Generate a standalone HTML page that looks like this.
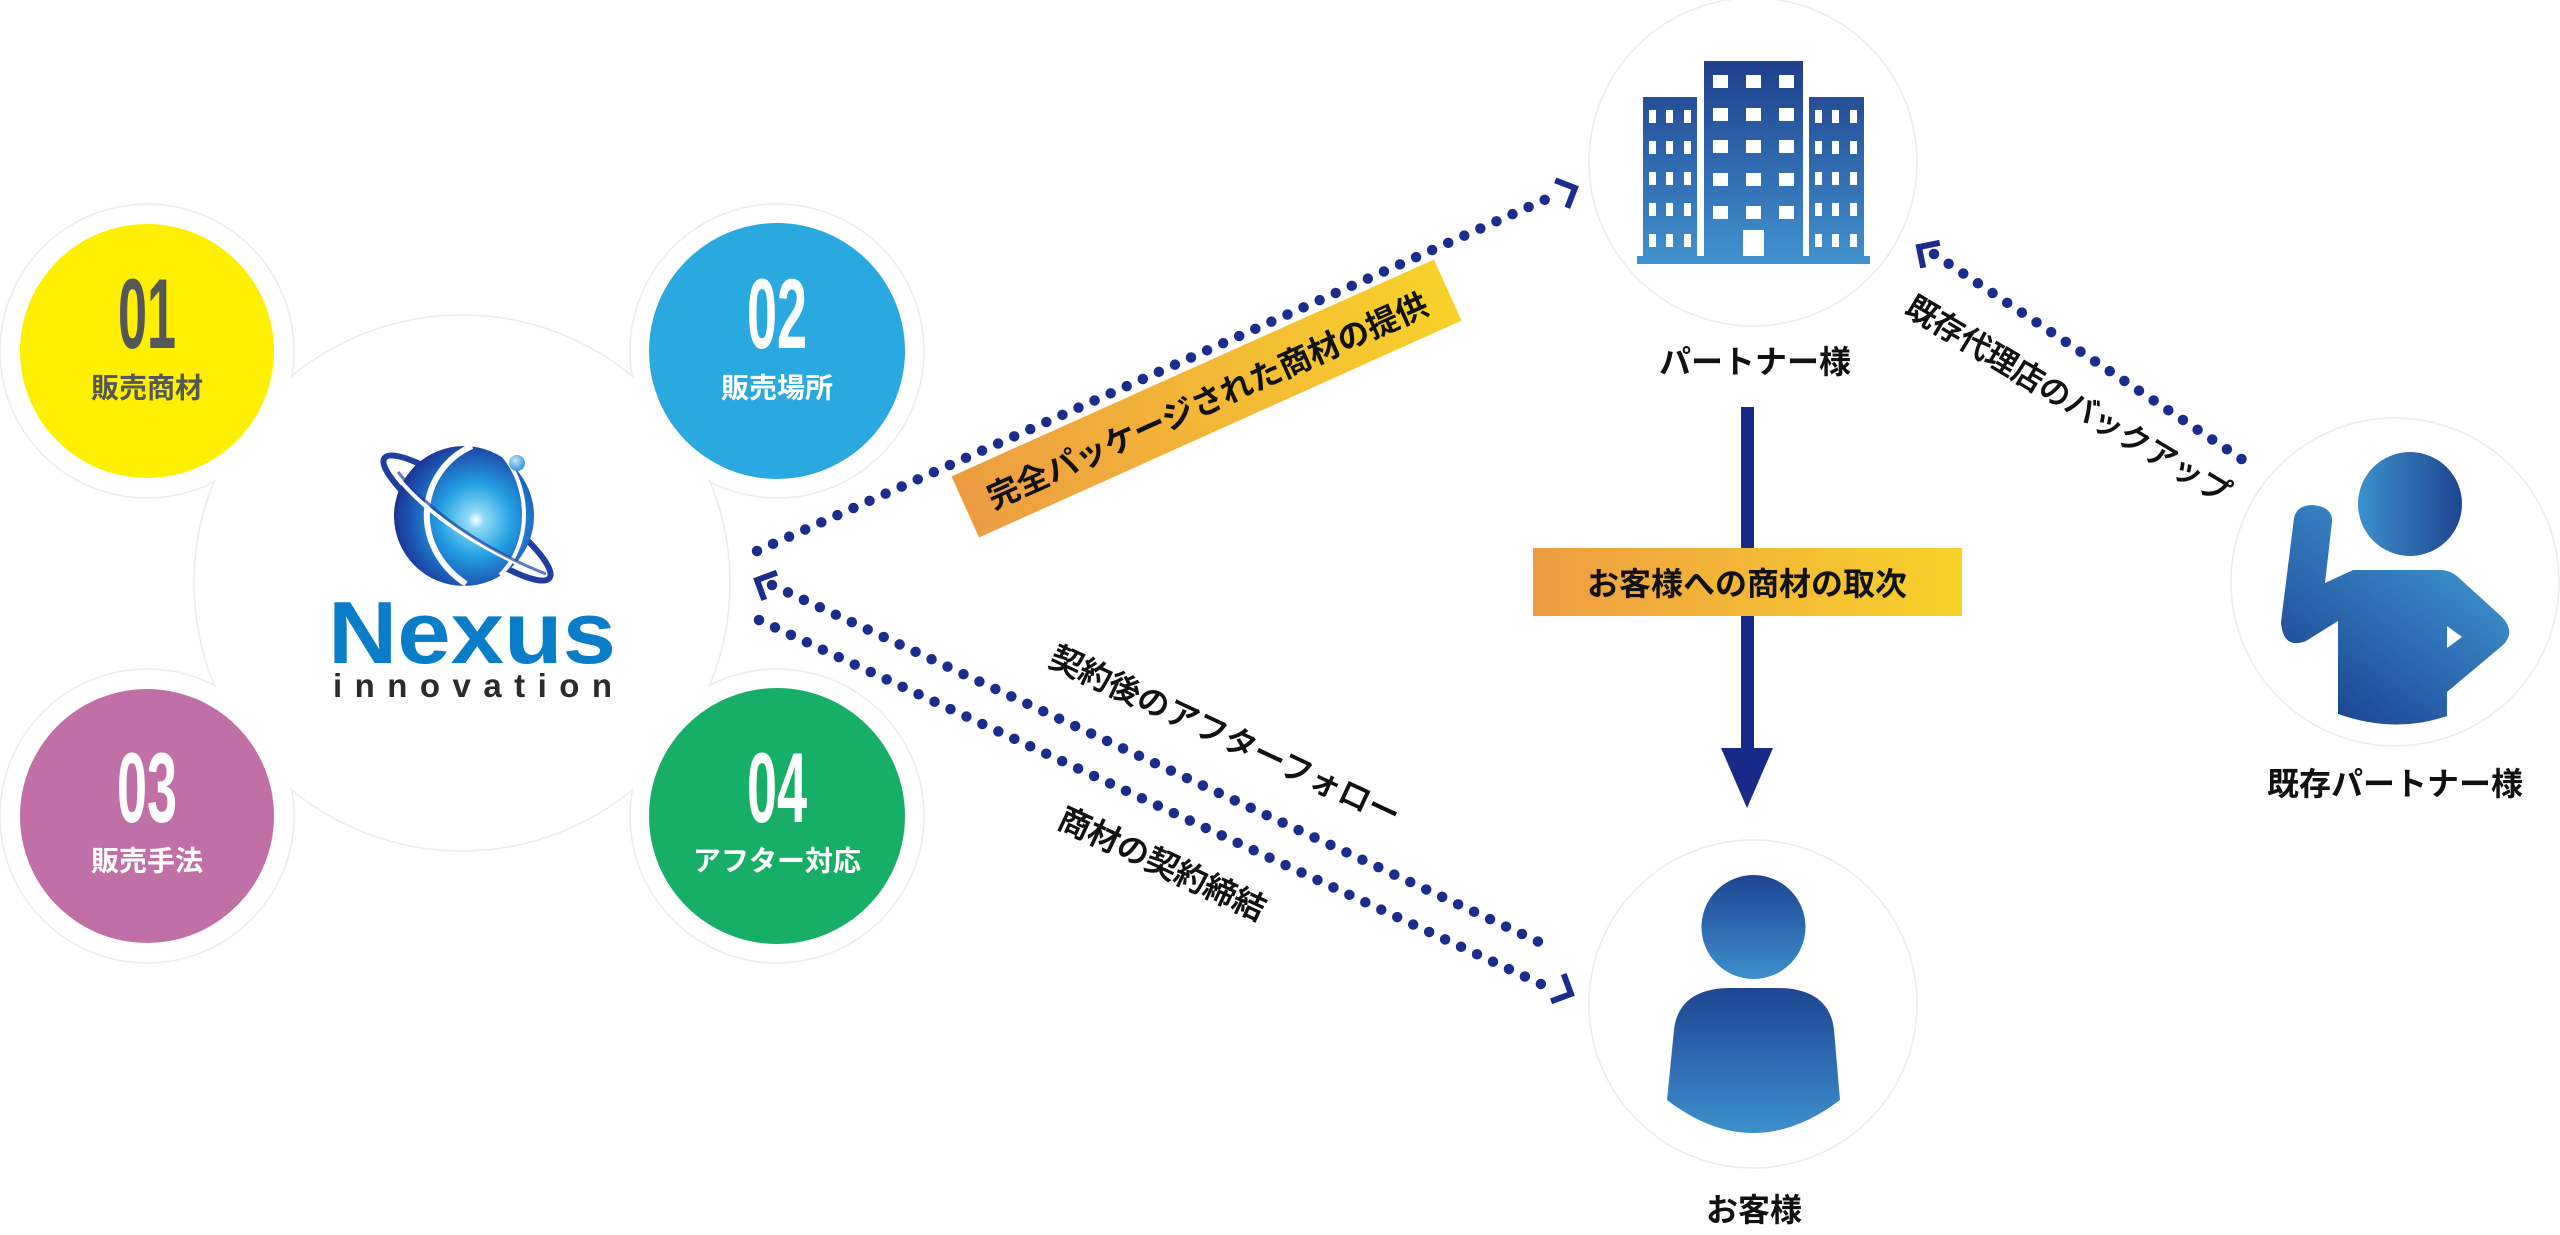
<!DOCTYPE html>
<html><head><meta charset="utf-8"><style>
html,body{margin:0;padding:0;background:#fff;}
svg{display:block;}
text{font-family:"Liberation Sans","Noto Sans CJK JP",sans-serif;}
.num{font-family:"Liberation Sans Narrow","Liberation Sans",sans-serif;font-weight:bold;}
</style></head><body>
<svg width="2560" height="1235" viewBox="0 0 2560 1235" xmlns="http://www.w3.org/2000/svg">
<defs>
  <linearGradient id="og" x1="0" y1="0" x2="1" y2="0">
    <stop offset="0" stop-color="#ee9c42"/><stop offset="1" stop-color="#f8d22a"/>
  </linearGradient>
  <radialGradient id="gl" gradientUnits="userSpaceOnUse" cx="476" cy="520" r="86">
    <stop offset="0" stop-color="#ffffff"/>
    <stop offset="0.1" stop-color="#8edaf6"/>
    <stop offset="0.42" stop-color="#23a0e2"/>
    <stop offset="0.75" stop-color="#1d5ab6"/>
    <stop offset="1" stop-color="#1b2b8c"/>
  </radialGradient>
  <radialGradient id="gd" cx="0.4" cy="0.35" r="0.7">
    <stop offset="0" stop-color="#bfe9fb"/><stop offset="1" stop-color="#2a8fd6"/>
  </radialGradient>
  <linearGradient id="bgd" x1="0" y1="61" x2="0" y2="263" gradientUnits="userSpaceOnUse">
    <stop offset="0" stop-color="#1f3f8c"/><stop offset="1" stop-color="#4193cf"/>
  </linearGradient>
  <linearGradient id="ch" x1="0" y1="876" x2="0" y2="979" gradientUnits="userSpaceOnUse">
    <stop offset="0" stop-color="#1f4592"/><stop offset="1" stop-color="#3d90cd"/>
  </linearGradient>
  <linearGradient id="cb" x1="0" y1="988" x2="0" y2="1133" gradientUnits="userSpaceOnUse">
    <stop offset="0" stop-color="#1f4592"/><stop offset="1" stop-color="#3d90cd"/>
  </linearGradient>
  <linearGradient id="ph" x1="2359" y1="0" x2="2462" y2="0" gradientUnits="userSpaceOnUse">
    <stop offset="0" stop-color="#3c90cd"/><stop offset="1" stop-color="#1f4590"/>
  </linearGradient>
  <linearGradient id="pb" x1="2480" y1="560" x2="2360" y2="725" gradientUnits="userSpaceOnUse">
    <stop offset="0" stop-color="#3e93cf"/><stop offset="1" stop-color="#1f4a96"/>
  </linearGradient>
</defs>

<!-- background blob outlines -->
<g fill="none" stroke="#ececf1" stroke-width="1.5">
  <circle cx="147" cy="351" r="147"/>
  <circle cx="777" cy="351" r="147"/>
  <circle cx="147" cy="816" r="147"/>
  <circle cx="777" cy="816" r="147"/>
  <circle cx="462" cy="583" r="268"/>
  <circle cx="1753" cy="162" r="164"/>
  <circle cx="1753" cy="1004" r="164"/>
  <circle cx="2395" cy="582" r="164"/>
</g>
<g fill="#fff">
  <circle cx="147" cy="351" r="146"/>
  <circle cx="777" cy="351" r="146"/>
  <circle cx="147" cy="816" r="146"/>
  <circle cx="777" cy="816" r="146"/>
  <circle cx="462" cy="583" r="267"/>
</g>

<!-- colored circles -->
<circle cx="147" cy="351" r="127" fill="#fef000"/>
<circle cx="777" cy="351" r="128" fill="#2aa8e0"/>
<circle cx="147" cy="816" r="127" fill="#c070a6"/>
<circle cx="777" cy="816" r="128" fill="#17af67"/>

<text class="num" x="147" y="348" font-size="99" text-anchor="middle" textLength="58" lengthAdjust="spacingAndGlyphs" fill="#575757">01</text>
<text x="147" y="388" font-size="28" font-weight="bold" text-anchor="middle" dominant-baseline="central" fill="#575757">販売商材</text>
<text class="num" x="777" y="348" font-size="99" text-anchor="middle" textLength="60" lengthAdjust="spacingAndGlyphs" fill="#fff">02</text>
<text x="777" y="388" font-size="28" font-weight="bold" text-anchor="middle" dominant-baseline="central" fill="#fff">販売場所</text>
<text class="num" x="147" y="822" font-size="99" text-anchor="middle" textLength="60" lengthAdjust="spacingAndGlyphs" fill="#fff">03</text>
<text x="147" y="861" font-size="28" font-weight="bold" text-anchor="middle" dominant-baseline="central" fill="#fff">販売手法</text>
<text class="num" x="777" y="822" font-size="99" text-anchor="middle" textLength="60" lengthAdjust="spacingAndGlyphs" fill="#fff">04</text>
<text x="777" y="861" font-size="28" font-weight="bold" text-anchor="middle" dominant-baseline="central" fill="#fff">アフター対応</text>

<!-- logo -->
<ellipse cx="467" cy="518" rx="102" ry="22" transform="rotate(36 467 518)" fill="none" stroke="#1f3ea0" stroke-width="6"/>
<circle cx="464" cy="516" r="70" fill="url(#gl)"/>
<path d="M472,446 C418,470 408,545 466,584" stroke="#fff" stroke-width="6" fill="none"/>
<path d="M500,452 C532,485 532,545 500,575" stroke="#fff" stroke-width="4" fill="none"/>
<path d="M392,470 C420,510 480,550 545,575" stroke="#fff" stroke-width="4" fill="none"/>
<path d="M398,472 C432,515 490,552 546,574" stroke="#1f3ea0" stroke-width="3" fill="none" opacity="0.7"/>
<circle cx="517" cy="463" r="8" fill="url(#gd)"/>
<text x="328" y="663" font-size="88" font-weight="bold" fill="#0a7dc9" textLength="288" lengthAdjust="spacingAndGlyphs">Nexus</text>
<text x="333" y="697" font-size="33" font-weight="bold" fill="#2b2b2b" textLength="279" lengthAdjust="spacing">innovation</text>

<!-- dotted connectors -->
<g stroke="#1b2d8c" stroke-width="10.5" stroke-linecap="round" stroke-dasharray="0 17.6" fill="none">
  <line x1="757" y1="551" x2="1560" y2="193"/>
  <line x1="772" y1="585" x2="1552" y2="948"/>
  <line x1="759" y1="620" x2="1556" y2="991"/>
  <line x1="1934" y1="254" x2="2249" y2="464"/>
</g>
<g stroke="#1b2d8c" stroke-width="6" fill="none" stroke-linejoin="miter">
  <polyline points="-15,-15 0,0 -15,15" transform="translate(1575,188) rotate(-23.8)"/>
  <polyline points="-15,-15 0,0 -15,15" transform="translate(757,580) rotate(204.9)"/>
  <polyline points="-15,-15 0,0 -15,15" transform="translate(1571,994) rotate(24.9)"/>
  <polyline points="-15,-15 0,0 -15,15" transform="translate(1919,247) rotate(213.7)"/>
</g>

<!-- label 1 -->
<g transform="translate(1206.5,398.5) rotate(-24.2)">
  <rect x="-264.5" y="-33.5" width="529" height="67" fill="url(#og)"/>
  <text x="0" y="3" font-size="32" font-weight="bold" text-anchor="middle" dominant-baseline="central" fill="#111">完全パッケージされた商材の提供</text>
</g>

<!-- line labels -->
<g fill="#111" stroke="#111" stroke-width="0.6">
<text transform="translate(1225,736) rotate(25)" font-size="32" font-weight="500" text-anchor="middle" dominant-baseline="central">契約後のアフターフォロー</text>
<text transform="translate(1162,864) rotate(25)" font-size="32" font-weight="500" text-anchor="middle" dominant-baseline="central">商材の契約締結</text>
<text transform="translate(2068,400) rotate(31)" font-size="31" font-weight="500" text-anchor="middle" dominant-baseline="central">既存代理店のバックアップ</text>
</g>

<!-- building -->
<g fill="url(#bgd)">
  <rect x="1637" y="256" width="233" height="8"/>
  <rect x="1643" y="97" width="54" height="160"/>
  <rect x="1704" y="61" width="99" height="196"/>
  <rect x="1809" y="97" width="55" height="160"/>
</g>
<g fill="#fff">
  <rect x="1649" y="110" width="7" height="13"/><rect x="1666" y="110" width="7" height="13"/><rect x="1684" y="110" width="7" height="13"/>
  <rect x="1649" y="141" width="7" height="13"/><rect x="1666" y="141" width="7" height="13"/><rect x="1684" y="141" width="7" height="13"/>
  <rect x="1649" y="172" width="7" height="13"/><rect x="1666" y="172" width="7" height="13"/><rect x="1684" y="172" width="7" height="13"/>
  <rect x="1649" y="203" width="7" height="13"/><rect x="1666" y="203" width="7" height="13"/><rect x="1684" y="203" width="7" height="13"/>
  <rect x="1649" y="234" width="7" height="13"/><rect x="1666" y="234" width="7" height="13"/><rect x="1684" y="234" width="7" height="13"/>
  <rect x="1815" y="110" width="7" height="13"/><rect x="1832" y="110" width="7" height="13"/><rect x="1850" y="110" width="7" height="13"/>
  <rect x="1815" y="141" width="7" height="13"/><rect x="1832" y="141" width="7" height="13"/><rect x="1850" y="141" width="7" height="13"/>
  <rect x="1815" y="172" width="7" height="13"/><rect x="1832" y="172" width="7" height="13"/><rect x="1850" y="172" width="7" height="13"/>
  <rect x="1815" y="203" width="7" height="13"/><rect x="1832" y="203" width="7" height="13"/><rect x="1850" y="203" width="7" height="13"/>
  <rect x="1815" y="234" width="7" height="13"/><rect x="1832" y="234" width="7" height="13"/><rect x="1850" y="234" width="7" height="13"/>
  <rect x="1713" y="75" width="15" height="13"/><rect x="1746" y="75" width="15" height="13"/><rect x="1779" y="75" width="15" height="13"/>
  <rect x="1713" y="108" width="15" height="13"/><rect x="1746" y="108" width="15" height="13"/><rect x="1779" y="108" width="15" height="13"/>
  <rect x="1713" y="140" width="15" height="13"/><rect x="1746" y="140" width="15" height="13"/><rect x="1779" y="140" width="15" height="13"/>
  <rect x="1713" y="173" width="15" height="13"/><rect x="1746" y="173" width="15" height="13"/><rect x="1779" y="173" width="15" height="13"/>
  <rect x="1713" y="206" width="15" height="13"/><rect x="1746" y="206" width="15" height="13"/><rect x="1779" y="206" width="15" height="13"/>
  <rect x="1743" y="230" width="21" height="26"/>
</g>
<text x="1755" y="362" font-size="32" font-weight="bold" text-anchor="middle" dominant-baseline="central" fill="#111">パートナー様</text>

<!-- vertical arrow -->
<rect x="1741" y="407" width="13" height="345" fill="#172a88"/>
<polygon points="1721,748 1773,748 1747,808" fill="#172a88"/>
<rect x="1533" y="548" width="429" height="68" fill="url(#og)"/>
<text x="1747" y="584" font-size="32" font-weight="bold" text-anchor="middle" dominant-baseline="central" fill="#111">お客様への商材の取次</text>

<!-- customer -->
<circle cx="1753.5" cy="927" r="52" fill="url(#ch)"/>
<path d="M1667,1100 L1674,1030 C1677,1000 1700,988 1730,988 L1778,988 C1808,988 1831,1000 1834,1030 L1840,1100 Q1753,1166 1667,1100 Z" fill="url(#cb)"/>
<text x="1754" y="1210" font-size="32" font-weight="bold" text-anchor="middle" dominant-baseline="central" fill="#111">お客様</text>

<!-- existing partner -->
<circle cx="2410" cy="504" r="52" fill="url(#ph)"/>
<path d="M2353,570 L2440,570 Q2450,570 2458,577 L2502,617 Q2516,632 2503,645 L2447,692 L2447,716 Q2395,734 2338,714 L2338,621 L2306,641 Q2283,650 2281,622 L2294,518 Q2297,505 2313,505 Q2333,507 2332,522 L2325,583 Z" fill="url(#pb)"/>
<path d="M2447,626 L2462,637 L2447,648 Z" fill="#fff"/>
<text x="2395" y="784" font-size="32" font-weight="bold" text-anchor="middle" dominant-baseline="central" fill="#111">既存パートナー様</text>
</svg>
</body></html>
